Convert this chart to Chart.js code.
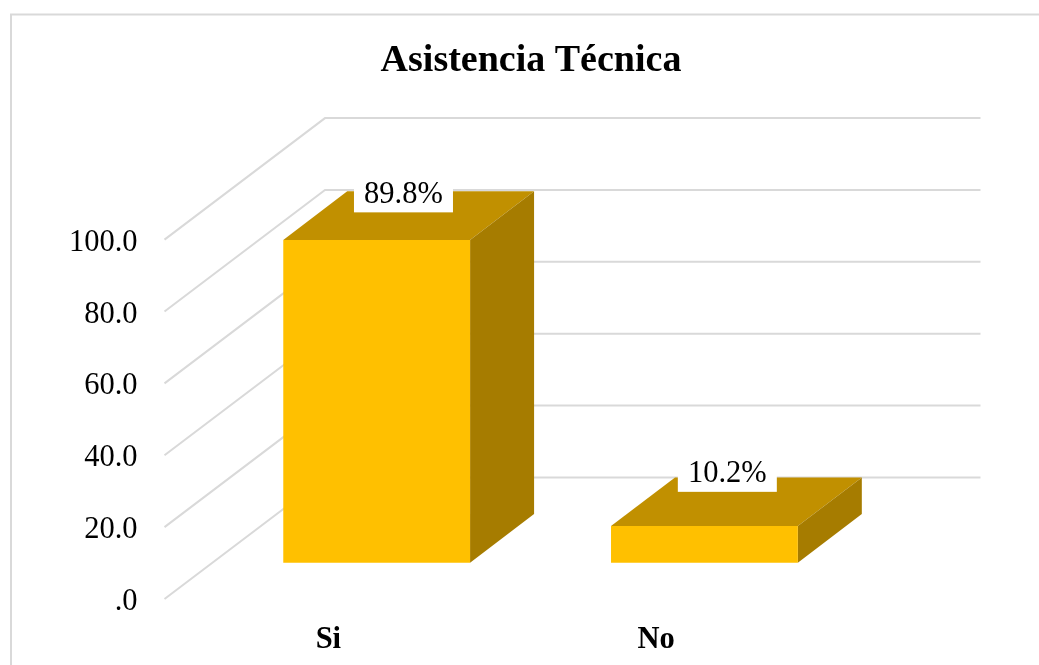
<!DOCTYPE html>
<html>
<head>
<meta charset="utf-8">
<title>Asistencia Técnica</title>
<script src="https://cdn.jsdelivr.net/npm/chart.js@4"></script>
<style>
    html, body { margin: 0; padding: 0; background: #fff; }
    #wrap { position: relative; width: 1039px; height: 665px; }
</style>
</head>
<body>
<div id="wrap"><canvas id="asistenciaChart"></canvas></div>
<script>
// Data
const categories = ['Si', 'No'];
const percentages = [89.8, 10.2];
const valueLabels = ['89.8%', '10.2%'];
const tickLabels = ['.0', '20.0', '40.0', '60.0', '80.0', '100.0'];

const serif = '"Liberation Serif", serif';
const gridColor = '#d9d9d9';

// fake 3D geometry, in px
const wallDepth = { x: 160.5, y: -121.5 };   // front plane to back wall
const barShift = { x: 48.3, y: -36.3 };      // bars stand mid-floor
const barDepth = { x: 64, y: -48.6 };
const labelOffset = [{ x: 26.8, y: -27.6 }, { x: 22.9, y: -34.2 }];

function poly(ctx, pts, fill) {
    ctx.beginPath();
    pts.forEach((p, i) => i ? ctx.lineTo(p[0], p[1]) : ctx.moveTo(p[0], p[1]));
    ctx.closePath();
    ctx.fillStyle = fill;
    ctx.fill();
}

const walls3d = {
    id: 'walls3d',
    beforeDatasetsDraw(chart) {
        const ctx = chart.ctx;
        const area = chart.chartArea;
        const yScale = chart.scales.y;
        ctx.save();
        // chart border, only left and top are inside the picture
        ctx.strokeStyle = gridColor;
        ctx.lineWidth = 2;
        ctx.beginPath();
        ctx.moveTo(11, 665);
        ctx.lineTo(11, 14.5);
        ctx.lineTo(1039, 14.5);
        ctx.stroke();
        // side wall diagonal and back wall line for each tick
        yScale.ticks.forEach((t, i) => {
            const y = yScale.getPixelForTick(i);
            ctx.beginPath();
            ctx.moveTo(area.left, y);
            ctx.lineTo(area.left + wallDepth.x, y + wallDepth.y);
            ctx.lineTo(area.right + wallDepth.x, y + wallDepth.y);
            ctx.stroke();
        });
        ctx.restore();
    }
};

const bars3d = {
    id: 'bars3d',
    beforeDatasetDraw(chart, args) {
        const ctx = chart.ctx;
        ctx.save();
        ctx.translate(barShift.x, barShift.y);
        args.meta.data.forEach(bar => {
            const l = bar.x - bar.width / 2;
            const r = bar.x + bar.width / 2;
            const dx = barDepth.x, dy = barDepth.y;
            poly(ctx, [[l, bar.y], [r, bar.y], [r + dx, bar.y + dy], [l + dx, bar.y + dy]], '#c19000');
            poly(ctx, [[r, bar.y], [r + dx, bar.y + dy], [r + dx, bar.base + dy], [r, bar.base]], '#a67c00');
        });
    },
    afterDatasetDraw(chart) {
        chart.ctx.restore();
    },
    afterDatasetsDraw(chart) {
        const ctx = chart.ctx;
        ctx.save();
        ctx.font = '30.5px ' + serif;
        ctx.textAlign = 'center';
        ctx.textBaseline = 'alphabetic';
        chart.getDatasetMeta(0).data.forEach((bar, i) => {
            const cx = bar.x + barShift.x + labelOffset[i].x;
            const bottom = bar.y + barShift.y + labelOffset[i].y;
            ctx.fillStyle = '#fff';
            ctx.fillRect(cx - 49.5, bottom - 38, 99, 38);
            ctx.fillStyle = '#000';
            ctx.fillText(valueLabels[i], cx, bottom - 9.7);
        });
        ctx.restore();
    }
};

new Chart(document.getElementById('asistenciaChart'), {
    type: 'bar',
    data: {
        labels: categories,
        datasets: [{
            data: percentages,
            backgroundColor: '#ffc000',
            borderWidth: 0,
            categoryPercentage: 1,
            barPercentage: 0.57,
            clip: false
        }]
    },
    options: {
        responsive: true,
        maintainAspectRatio: false,
        animation: false,
        layout: { padding: { left: 23, right: 0, top: 0, bottom: 0 } },
        scales: {
            x: {
                grid: { display: false },
                border: { display: false },
                ticks: {
                    color: '#000',
                    padding: 15,
                    maxRotation: 0,
                    font: { family: serif, size: 30.5, weight: 'bold' }
                },
                afterFit(scale) { scale.height = 66; }
            },
            y: {
                min: 0,
                max: 100,
                grid: { display: false },
                border: { display: false },
                ticks: {
                    stepSize: 20,
                    color: '#000',
                    padding: 19,
                    // small line height + empty first line pushes the text about 3px below the tick
                    font: { family: serif, size: 30.5, lineHeight: 0.2 },
                    callback: (value, index) => ['', tickLabels[index]]
                },
                afterFit(scale) { scale.width = 141.5; }
            },
            // empty axis, only reserves the room the back wall leans into
            spacer: {
                position: 'right',
                grid: { display: false },
                border: { display: false },
                ticks: { display: false },
                afterFit(scale) { scale.width = 219; }
            }
        },
        plugins: {
            legend: { display: false },
            tooltip: { enabled: false },
            title: {
                display: true,
                text: 'Asistencia Técnica',
                color: '#000',
                font: { family: serif, size: 38, weight: 'bold', lineHeight: 1.2 },
                padding: { top: 38, bottom: 156 }
            }
        }
    },
    plugins: [walls3d, bars3d]
});
</script>
</body>
</html>
